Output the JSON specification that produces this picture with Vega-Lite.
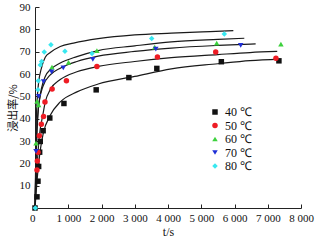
{
  "$schema": "https://vega.github.io/schema/vega-lite/v6.json",
  "width": 266,
  "height": 201,
  "autosize": {"type": "none"},
  "padding": {"left": 35, "top": 7, "right": 23, "bottom": 32},
  "background": "white",
  "config": {
    "view": {"stroke": null},
    "font": "Liberation Serif",
    "axis": {
      "grid": false,
      "domainColor": "#222222",
      "tickColor": "#222222",
      "tickSize": -4,
      "labelFont": "Liberation Serif",
      "labelFontSize": 11,
      "labelColor": "#111111",
      "titleFont": "Liberation Serif",
      "titleFontWeight": "normal",
      "titleColor": "#111111"
    }
  },
  "datasets": {
    "fit": [
      {"T": "40 ℃", "t": 0, "r": 0}, {"T": "40 ℃", "t": 60, "r": 12}, {"T": "40 ℃", "t": 150, "r": 25}, {"T": "40 ℃", "t": 250, "r": 33.5}, {"T": "40 ℃", "t": 459, "r": 41.5}, {"T": "40 ℃", "t": 760, "r": 47.5}, {"T": "40 ℃", "t": 1261, "r": 52}, {"T": "40 ℃", "t": 1900, "r": 55.5}, {"T": "40 ℃", "t": 3000, "r": 58.9}, {"T": "40 ℃", "t": 4100, "r": 62.3}, {"T": "40 ℃", "t": 5500, "r": 64.6}, {"T": "40 ℃", "t": 6466, "r": 66}, {"T": "40 ℃", "t": 7366, "r": 66.7},
      {"T": "50 ℃", "t": 0, "r": 0}, {"T": "50 ℃", "t": 60, "r": 18}, {"T": "50 ℃", "t": 130, "r": 32}, {"T": "50 ℃", "t": 240, "r": 42}, {"T": "50 ℃", "t": 309, "r": 47.5}, {"T": "50 ℃", "t": 459, "r": 53}, {"T": "50 ℃", "t": 760, "r": 57.5}, {"T": "50 ℃", "t": 1261, "r": 61}, {"T": "50 ℃", "t": 1900, "r": 63.4}, {"T": "50 ℃", "t": 3000, "r": 65.6}, {"T": "50 ℃", "t": 4100, "r": 67.3}, {"T": "50 ℃", "t": 5500, "r": 68.7}, {"T": "50 ℃", "t": 6466, "r": 69.6}, {"T": "50 ℃", "t": 7285, "r": 70.1},
      {"T": "60 ℃", "t": 0, "r": 0}, {"T": "60 ℃", "t": 40, "r": 30}, {"T": "60 ℃", "t": 120, "r": 47}, {"T": "60 ℃", "t": 309, "r": 58.9}, {"T": "60 ℃", "t": 459, "r": 61.9}, {"T": "60 ℃", "t": 760, "r": 64.9}, {"T": "60 ℃", "t": 1261, "r": 67.8}, {"T": "60 ℃", "t": 1900, "r": 70.5}, {"T": "60 ℃", "t": 3000, "r": 72.6}, {"T": "60 ℃", "t": 4100, "r": 74.4}, {"T": "60 ℃", "t": 5500, "r": 75.5}, {"T": "60 ℃", "t": 6295, "r": 76},
      {"T": "70 ℃", "t": 0, "r": 0}, {"T": "70 ℃", "t": 40, "r": 25}, {"T": "70 ℃", "t": 120, "r": 47}, {"T": "70 ℃", "t": 240, "r": 54.5}, {"T": "70 ℃", "t": 459, "r": 59.6}, {"T": "70 ℃", "t": 760, "r": 62.6}, {"T": "70 ℃", "t": 1261, "r": 65.6}, {"T": "70 ℃", "t": 1900, "r": 68}, {"T": "70 ℃", "t": 3000, "r": 70.1}, {"T": "70 ℃", "t": 4100, "r": 71.6}, {"T": "70 ℃", "t": 5500, "r": 72.8}, {"T": "70 ℃", "t": 6636, "r": 73.5},
      {"T": "80 ℃", "t": 0, "r": 0}, {"T": "80 ℃", "t": 40, "r": 40}, {"T": "80 ℃", "t": 100, "r": 55}, {"T": "80 ℃", "t": 200, "r": 63}, {"T": "80 ℃", "t": 309, "r": 67.5}, {"T": "80 ℃", "t": 459, "r": 69.6}, {"T": "80 ℃", "t": 760, "r": 72.3}, {"T": "80 ℃", "t": 1159, "r": 73.8}, {"T": "80 ℃", "t": 1900, "r": 75.8}, {"T": "80 ℃", "t": 3000, "r": 77.5}, {"T": "80 ℃", "t": 4100, "r": 78.3}, {"T": "80 ℃", "t": 5265, "r": 79}, {"T": "80 ℃", "t": 5965, "r": 79.4}
    ],
    "pts": [
      {"T": "40 ℃", "t": 0, "r": 0}, {"T": "40 ℃", "t": 60, "r": 5}, {"T": "40 ℃", "t": 90, "r": 12}, {"T": "40 ℃", "t": 110, "r": 18.6}, {"T": "40 ℃", "t": 140, "r": 25}, {"T": "40 ℃", "t": 159, "r": 29.8}, {"T": "40 ℃", "t": 245, "r": 34.6}, {"T": "40 ℃", "t": 445, "r": 40.3}, {"T": "40 ℃", "t": 870, "r": 46.8}, {"T": "40 ℃", "t": 1840, "r": 52.9}, {"T": "40 ℃", "t": 2823, "r": 58.4}, {"T": "40 ℃", "t": 3664, "r": 62.5}, {"T": "40 ℃", "t": 5604, "r": 65.5}, {"T": "40 ℃", "t": 7336, "r": 65.9},
      {"T": "50 ℃", "t": 60, "r": 17}, {"T": "50 ℃", "t": 70, "r": 21}, {"T": "50 ℃", "t": 90, "r": 25}, {"T": "50 ℃", "t": 130, "r": 32.3}, {"T": "50 ℃", "t": 190, "r": 37.5}, {"T": "50 ℃", "t": 258, "r": 41}, {"T": "50 ℃", "t": 300, "r": 47.5}, {"T": "50 ℃", "t": 515, "r": 53.3}, {"T": "50 ℃", "t": 945, "r": 57}, {"T": "50 ℃", "t": 1862, "r": 63.4}, {"T": "50 ℃", "t": 3682, "r": 67.6}, {"T": "50 ℃", "t": 5435, "r": 69.8}, {"T": "50 ℃", "t": 7246, "r": 67.1},
      {"T": "60 ℃", "t": 30, "r": 29}, {"T": "60 ℃", "t": 60, "r": 47.7}, {"T": "60 ℃", "t": 110, "r": 46.2}, {"T": "60 ℃", "t": 510, "r": 63.1}, {"T": "60 ℃", "t": 1009, "r": 65.2}, {"T": "60 ℃", "t": 1862, "r": 70.5}, {"T": "60 ℃", "t": 3600, "r": 72}, {"T": "60 ℃", "t": 5465, "r": 73.8}, {"T": "60 ℃", "t": 7396, "r": 73.4},
      {"T": "70 ℃", "t": 30, "r": 25.3}, {"T": "70 ℃", "t": 110, "r": 50}, {"T": "70 ℃", "t": 258, "r": 56.6}, {"T": "70 ℃", "t": 500, "r": 61}, {"T": "70 ℃", "t": 850, "r": 62.7}, {"T": "70 ℃", "t": 1740, "r": 66.5}, {"T": "70 ℃", "t": 3634, "r": 71.1}, {"T": "70 ℃", "t": 6186, "r": 72.8},
      {"T": "80 ℃", "t": 10, "r": 0}, {"T": "80 ℃", "t": 90, "r": 53}, {"T": "80 ℃", "t": 100, "r": 57}, {"T": "80 ℃", "t": 159, "r": 64}, {"T": "80 ℃", "t": 200, "r": 65.6}, {"T": "80 ℃", "t": 279, "r": 69.8}, {"T": "80 ℃", "t": 480, "r": 73.1}, {"T": "80 ℃", "t": 900, "r": 70.2}, {"T": "80 ℃", "t": 1712, "r": 69.2}, {"T": "80 ℃", "t": 3510, "r": 75.9}, {"T": "80 ℃", "t": 5694, "r": 77.9}
    ]
  },
  "encoding": {
    "x": {
      "field": "t", "type": "quantitative",
      "scale": {"domain": [0, 8000], "nice": false},
      "axis": {
        "title": "t/s",
        "titleFontSize": 12,
        "titlePadding": 3,
        "tickCount": 8,
        "labelOverlap": false,
        "labelFlush": false,
        "labelExpr": "datum.value == 0 ? '0' : floor(datum.value / 1000) + ' 000'",
        "labelAlign": {"condition": {"test": "datum.value == 0", "value": "right"}, "value": "center"},
        "labelPadding": 8
      }
    },
    "y": {
      "field": "r", "type": "quantitative",
      "scale": {"domain": [0, 90], "nice": false},
      "axis": {
        "title": "浸出率/%",
        "titleFont": "Noto Sans CJK SC",
        "titleFontSize": 11,
        "titlePadding": 1,
        "labelOverlap": false,
        "values": [0, 10, 20, 30, 40, 50, 60, 70, 80, 90],
        "labelExpr": "datum.value == 0 ? '' : datum.label",
        "labelPadding": 9
      }
    }
  },
  "layer": [
    {
      "data": {"name": "fit"},
      "mark": {"type": "line", "color": "#1a1a1a", "strokeWidth": 1.2, "interpolate": "monotone"},
      "encoding": {
        "detail": {"field": "T"}
      }
    },
    {
      "data": {"name": "pts"},
      "mark": {"type": "point", "filled": true, "opacity": 1, "size": 30},
      "encoding": {
        "color": {
          "field": "T", "type": "nominal",
          "scale": {"domain": ["40 ℃", "50 ℃", "60 ℃", "70 ℃", "80 ℃"], "range": ["#111111", "#ee1c24", "#3dd13d", "#1f2fd6", "#38e8f0"]},
          "legend": {
            "title": null,
            "orient": "none",
            "legendX": 174,
            "legendY": 99,
            "labelFont": "Liberation Serif",
            "labelFontSize": 12,
            "labelColor": "#111111",
            "symbolSize": 30,
            "rowPadding": 1.5,
            "labelOffset": 4
          }
        },
        "shape": {
          "field": "T", "type": "nominal",
          "scale": {"domain": ["40 ℃", "50 ℃", "60 ℃", "70 ℃", "80 ℃"], "range": ["square", "circle", "triangle-up", "triangle-down", "diamond"]}
        }
      }
    }
  ]
}
